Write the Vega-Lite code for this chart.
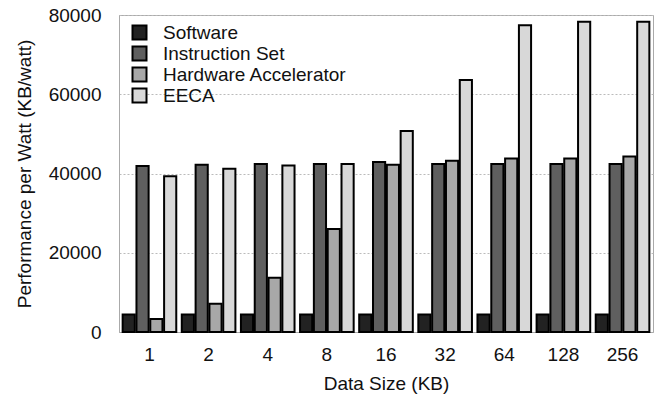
{
  "$schema": "https://vega.github.io/schema/vega-lite/v6.json",
  "width": 534,
  "height": 317,
  "autosize": {"type": "none"},
  "padding": {"left": 119, "top": 15, "right": 6, "bottom": 67},
  "background": "white",
  "config": {
    "font": "Liberation Sans",
    "view": {"stroke": "#aaaaaa", "strokeWidth": 1},
    "axis": {"labelFont": "Liberation Sans", "titleFont": "Liberation Sans", "labelColor": "#111", "titleColor": "#111", "titleFontWeight": "normal"}
  },
  "data": {
    "values": [
      {"size": "1", "series": "Software", "value": 4400},
      {"size": "1", "series": "Instruction Set", "value": 41900},
      {"size": "1", "series": "Hardware Accelerator", "value": 3300},
      {"size": "1", "series": "EECA", "value": 39300},
      {"size": "2", "series": "Software", "value": 4400},
      {"size": "2", "series": "Instruction Set", "value": 42200},
      {"size": "2", "series": "Hardware Accelerator", "value": 7100},
      {"size": "2", "series": "EECA", "value": 41200},
      {"size": "4", "series": "Software", "value": 4400},
      {"size": "4", "series": "Instruction Set", "value": 42400},
      {"size": "4", "series": "Hardware Accelerator", "value": 13700},
      {"size": "4", "series": "EECA", "value": 42000},
      {"size": "8", "series": "Software", "value": 4400},
      {"size": "8", "series": "Instruction Set", "value": 42400},
      {"size": "8", "series": "Hardware Accelerator", "value": 26000},
      {"size": "8", "series": "EECA", "value": 42400},
      {"size": "16", "series": "Software", "value": 4400},
      {"size": "16", "series": "Instruction Set", "value": 42900},
      {"size": "16", "series": "Hardware Accelerator", "value": 42200},
      {"size": "16", "series": "EECA", "value": 50700},
      {"size": "32", "series": "Software", "value": 4400},
      {"size": "32", "series": "Instruction Set", "value": 42400},
      {"size": "32", "series": "Hardware Accelerator", "value": 43200},
      {"size": "32", "series": "EECA", "value": 63600},
      {"size": "64", "series": "Software", "value": 4400},
      {"size": "64", "series": "Instruction Set", "value": 42400},
      {"size": "64", "series": "Hardware Accelerator", "value": 43800},
      {"size": "64", "series": "EECA", "value": 77400},
      {"size": "128", "series": "Software", "value": 4400},
      {"size": "128", "series": "Instruction Set", "value": 42400},
      {"size": "128", "series": "Hardware Accelerator", "value": 43800},
      {"size": "128", "series": "EECA", "value": 78300},
      {"size": "256", "series": "Software", "value": 4400},
      {"size": "256", "series": "Instruction Set", "value": 42400},
      {"size": "256", "series": "Hardware Accelerator", "value": 44300},
      {"size": "256", "series": "EECA", "value": 78300}
    ]
  },
  "mark": {"type": "bar", "stroke": "black", "strokeWidth": 2},
  "encoding": {
    "x": {
      "field": "size",
      "type": "nominal",
      "sort": ["1", "2", "4", "8", "16", "32", "64", "128", "256"],
      "scale": {"paddingInner": 0.07, "paddingOuter": 0.05},
      "axis": {
        "title": "Data Size (KB)",
        "labelAngle": 0,
        "labelFontSize": 19,
        "titleFontSize": 19,
        "ticks": false,
        "labelPadding": 13,
        "titlePadding": 10,
        "domainColor": "#aaaaaa"
      }
    },
    "xOffset": {
      "field": "series",
      "type": "nominal",
      "sort": ["Software", "Instruction Set", "Hardware Accelerator", "EECA"],
      "scale": {"paddingInner": 0.12, "paddingOuter": 0.05}
    },
    "y": {
      "field": "value",
      "type": "quantitative",
      "scale": {"domain": [0, 80000], "nice": false},
      "axis": {
        "title": "Performance per Watt (KB/watt)",
        "values": [0, 20000, 40000, 60000, 80000],
        "format": "d",
        "labelFontSize": 19,
        "titleFontSize": 19,
        "ticks": false,
        "labelPadding": 18,
        "titlePadding": 14,
        "domainColor": "#aaaaaa",
        "gridColor": "#bbbbbb",
        "gridDash": [2, 2],
        "gridWidth": 1
      }
    },
    "color": {
      "field": "series",
      "type": "nominal",
      "sort": ["Software", "Instruction Set", "Hardware Accelerator", "EECA"],
      "scale": {
        "domain": ["Software", "Instruction Set", "Hardware Accelerator", "EECA"],
        "range": ["#222222", "#5f5f5f", "#a8a8a8", "#d8d8d8"]
      },
      "legend": {
        "title": null,
        "orient": "none",
        "legendX": 11,
        "legendY": 8,
        "symbolType": "square",
        "symbolSize": 196,
        "symbolStrokeColor": "black",
        "symbolStrokeWidth": 2,
        "symbolOpacity": 1,
        "labelFontSize": 19,
        "labelLimit": 400,
        "labelColor": "#111",
        "labelFont": "Liberation Sans",
        "rowPadding": -2,
        "labelOffset": 14
      }
    }
  }
}
